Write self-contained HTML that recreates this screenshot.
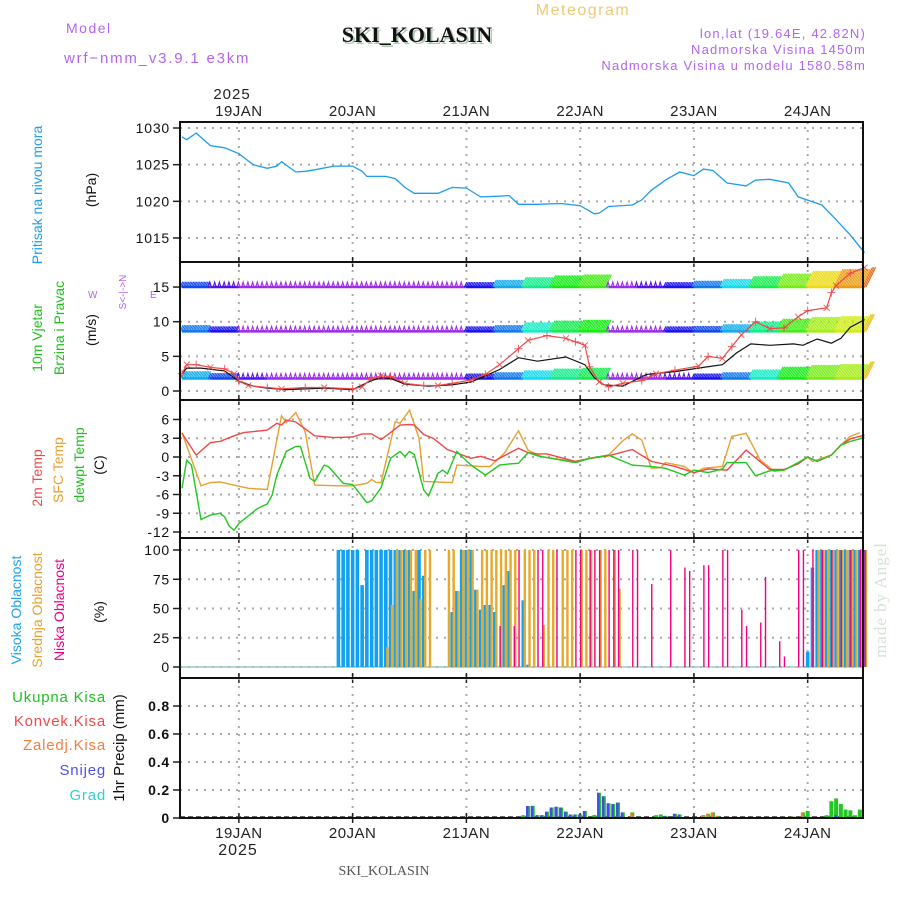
<!DOCTYPE html>
<html><head><meta charset="utf-8"><style>
html,body{margin:0;padding:0;background:#fff;}
svg{display:block;font-family:"Liberation Sans",sans-serif;}
</style></head><body>
<svg id="chart" width="900" height="900" viewBox="0 0 900 900">
<g>
<text x="66" y="33" font-size="14" fill="#b464f0" letter-spacing="1.5">Model</text>
<text x="64" y="63" font-size="15" fill="#b464f0" letter-spacing="1.8">wrf−nmm_v3.9.1 e3km</text>
<text x="419" y="44" font-size="22" font-weight="bold" font-family="Liberation Serif,serif" fill="#b0c8b0" text-anchor="middle">SKI_KOLASIN</text>
<text x="417" y="42" font-size="22" font-weight="bold" font-family="Liberation Serif,serif" fill="#111" text-anchor="middle">SKI_KOLASIN</text>
<text x="583" y="15" font-size="16" fill="#f0c878" letter-spacing="1.5" text-anchor="middle">Meteogram</text>
<text x="866" y="38" font-size="13" fill="#b464f0" letter-spacing="1.2" text-anchor="end">lon,lat (19.64E, 42.82N)</text>
<text x="866" y="54" font-size="13" fill="#b464f0" letter-spacing="1.2" text-anchor="end">Nadmorska Visina 1450m</text>
<text x="866" y="70" font-size="13" fill="#b464f0" letter-spacing="1.2" text-anchor="end">Nadmorska Visina u modelu 1580.58m</text>
<text x="232" y="99" font-size="15" fill="#222" text-anchor="middle" letter-spacing="1">2025</text>
</g>
<g font-size="14">
<text transform="translate(42,195) rotate(-90)" text-anchor="middle" fill="#1e9cf0">Pritisak na nivou mora</text>
<text transform="translate(96,190) rotate(-90)" text-anchor="middle" fill="#111">(hPa)</text>
<text transform="translate(42,338) rotate(-90)" text-anchor="middle" fill="#20c020">10m Vjetar</text>
<text transform="translate(64,328) rotate(-90)" text-anchor="middle" fill="#20c020">Brzina i Pravac</text>
<text transform="translate(96,330) rotate(-90)" text-anchor="middle" fill="#111">(m/s)</text>
<g fill="#b464f0" font-size="10">
<text x="88" y="298">W</text><text x="150" y="298">E</text>
<text transform="translate(126,292) rotate(-90)" text-anchor="middle">S&lt;-|-&gt;N</text>
</g>
<text transform="translate(42,478) rotate(-90)" text-anchor="middle" fill="#f04848">2m Temp</text>
<text transform="translate(63,470) rotate(-90)" text-anchor="middle" fill="#e8a030">SFC Temp</text>
<text transform="translate(84,465) rotate(-90)" text-anchor="middle" fill="#20c020">dewpt Temp</text>
<text transform="translate(104,465) rotate(-90)" text-anchor="middle" fill="#111">(C)</text>
<text transform="translate(21,610) rotate(-90)" text-anchor="middle" fill="#1ea0f0">Visoka Oblacnost</text>
<text transform="translate(42,610) rotate(-90)" text-anchor="middle" fill="#e8a030">Srednja Oblacnost</text>
<text transform="translate(64,610) rotate(-90)" text-anchor="middle" fill="#f00080">Niska Oblacnost</text>
<text transform="translate(104,612) rotate(-90)" text-anchor="middle" fill="#111">(%)</text>
<g font-size="15" text-anchor="end" letter-spacing="0.8">
<text x="106" y="702" fill="#20c020">Ukupna Kisa</text>
<text x="106" y="726" fill="#f04848">Konvek.Kisa</text>
<text x="106" y="750" fill="#f08040">Zaledj.Kisa</text>
<text x="106" y="775" fill="#5050f0">Snijeg</text>
<text x="106" y="800" fill="#30d0d0">Grad</text>
</g>
<text transform="translate(124,748) rotate(-90)" text-anchor="middle" fill="#111" font-size="15">1hr Precip (mm)</text>
</g>
<text transform="translate(886,600) rotate(-90)" text-anchor="middle" fill="#d4e2d4" font-size="17" font-family="Liberation Serif,serif" letter-spacing="1">made by Angel</text>
<text x="384" y="875" font-size="14" font-family="Liberation Serif,serif" fill="#555" text-anchor="middle">SKI_KOLASIN</text>
<text x="238" y="855" font-size="16" fill="#222" text-anchor="middle" letter-spacing="1">2025</text>
<g id="plots"></g>
</svg>
<script>
// ---- data ----
const dayLabels = ["19JAN","20JAN","21JAN","22JAN","23JAN","24JAN"];
const dayHours = [12,36,60,84,108,132];
const pressTicks = [1015,1020,1025,1030];
const windTicks = [0,5,10,15];
const tempTicks = [-12,-9,-6,-3,0,3,6];
const cloudTicks = [0,25,50,75,100];
const precipTicks = [0,0.2,0.4,0.6,0.8];

const pressHours = [0,1,3,6,9,12,15,18,20,21,24,26,28,32,36,38,39,43,45,47,49,54,57,60,63,67,69,71,75,80,84,87,88,90,95,97,99,102,105,108,110,112,115,119,121,124,128,130,135,138,141,144];
const pressVals = [1028.8,1028.4,1029.3,1027.6,1027.3,1026.5,1025.0,1024.5,1024.8,1025.4,1024.0,1024.1,1024.3,1024.8,1024.8,1024.1,1023.4,1023.4,1023.1,1021.9,1021.1,1021.1,1021.9,1021.8,1020.6,1020.7,1020.8,1019.6,1019.6,1019.7,1019.4,1018.3,1018.4,1019.3,1019.5,1020.2,1021.5,1022.9,1024.0,1023.5,1024.4,1024.2,1022.5,1022.1,1022.9,1023.0,1022.5,1020.6,1019.5,1017.5,1015.4,1013.0];

const spdHours = [0,1,3,6,9,11,12,14,18,21,26,30,36,38,40,42,44,47,51,54,57,61,64,67,71,73,77,81,83,85,86,88,90,93,97,100,104,109,111,114,116,118,121,124,127,130,132,136,137,138,141,144];
const spdVals = [2.5,3.8,3.8,3.4,3.2,2.5,1.4,0.8,0.5,0.3,0.5,0.5,0.3,0.6,1.8,2.2,2.1,1.1,0.8,0.8,1.1,1.6,2.4,3.8,6.1,7.3,8.0,7.6,7.1,6.6,3.5,1.3,0.6,1.1,1.5,2.5,3.0,3.6,5.0,4.7,6.4,8.1,10.0,9.0,9.1,10.7,11.6,12.0,14.2,15.2,17.0,17.8];
const gustHours = [0,1,4,9,12,15,18,22,30,36,40,42,44,47,52,57,61,64,67,71,75,81,85,87,89,93,98,104,110,114,117,120,124,129,131,134,137,139,141,144];
const gustVals = [2.5,3.3,3.3,2.9,1.4,0.7,0.4,0.2,0.4,0.2,1.5,1.9,1.8,1.0,0.7,0.9,1.3,2.2,3.1,4.8,4.3,4.9,3.8,1.9,0.9,0.7,2.4,2.8,3.4,3.8,5.5,6.8,6.6,6.8,6.6,7.5,6.9,7.6,9.2,10.3];

const barbHours = [0,6,12,18,24,30,36,42,48,54,60,66,72,78,84,90,96,102,108,114,120,126,132,138,144];
const barbUpper = [6,4,3,3,3,3,3,3,3,3,5,8,11,13,14,3,4,5,7,9,12,15,18,20,22];
const barbMid = [7,5,3,3,3,3,3,3,3,3,5,7,10,12,13,3,3,5,6,8,11,14,16,17,19];
const barbLow = [8,6,4,3,3,3,3,3,3,3,5,7,9,11,12,3,3,4,5,7,10,13,15,16,19];

const t2Hours = [0,3,6,8,11,13,18,20,21,22,24,28,32,36,38,40,42,44,46,48,49,51,53,56,61,63,66,71,73,75,77,83,86,90,95,99,104,108,111,115,119,124,127,130,132,134,137,139,141,144];
const t2Vals = [3.8,0.3,2.3,2.5,3.4,3.9,4.3,5.4,5.1,5.9,5.6,3.4,3.1,3.2,3.7,3.7,2.8,3.9,5.1,5.2,5.1,3.6,3.0,1.2,-0.2,0.1,-0.6,1.4,0.7,0.5,0.5,-0.7,-0.2,0.2,1.2,-0.7,-1.5,-2.5,-1.9,-2.1,1.1,-2.0,-2.0,-1.1,0.0,-0.7,0.3,1.9,2.9,3.5];
const sfcHours = [0,4,6,8,14,18,21,22,24,26,28,33,36,39,40,41,42,45,46,48,50,51,57,58,63,65,68,71,73,76,83,90,93,95,97,99,101,102,106,108,110,114,116,119,122,125,127,130,132,133,137,139,141,143];
const sfcVals = [3.9,-4.6,-4.1,-4.0,-5.0,-5.2,6.6,5.5,7.1,4.0,-4.5,-4.6,-4.6,-4.2,-3.6,-4.1,-4.1,5.7,5.4,7.5,3.0,-3.9,-4.1,-1.3,-1.5,-1.5,0.6,4.2,1.1,0.0,-0.7,0.3,2.6,3.7,2.7,-1.8,-1.7,-0.9,-1.5,-2.6,-1.8,-1.5,3.3,3.8,-0.5,-2.3,-2.1,-0.9,0.0,-0.7,0.3,1.9,3.3,3.9];
const dewHours = [0,1,2,4,6,8,9,10,11,12,16,18,19,20,22,24,25,27,28,30,31,34,36,39,40,42,44,46,47,48,49,51,52,54,55,56,58,59,61,64,67,69,71,73,75,83,86,90,95,99,102,106,108,111,114,115,117,119,121,124,127,130,132,134,137,139,141,144];
const dewVals = [-5.0,-0.5,-1.3,-10.0,-9.3,-9.0,-9.6,-11.1,-11.7,-10.6,-8.2,-7.5,-6.1,-2.9,0.9,1.7,1.7,-3.4,-3.9,-1.3,-1.6,-4.2,-4.4,-7.3,-7.0,-4.9,-0.2,0.9,0.1,0.9,0.4,-5.3,-6.2,-2.6,-2.1,-2.7,0.9,0.1,-1.3,-2.9,-1.3,-1.1,-1.0,0.7,0.2,-0.9,-0.2,0.3,-1.3,-1.5,-1.8,-2.9,-2.1,-2.5,-1.9,-0.9,-0.9,-0.9,-3.0,-2.2,-2.1,-0.9,0.0,-0.7,0.3,1.9,2.5,3.1];

const highHours = [33,34,35,36,37,38,39,40,41,42,43,44,45,46,47,48,49,50,51,57,58,59,60,61,62,63,64,65,66,68,69,72,73,132,133,134,135,136,137,138,139,140,141,142,143,144];
const highVals = [100,100,100,100,100,70,100,100,100,100,100,100,100,100,100,100,65,100,78,47,65,100,100,100,66,49,53,53,47,70,82,57,2,13,85,100,100,100,100,100,100,100,100,100,100,100];
const midHours = [43,44,45,46,47,48,49,50,51,52,56,57,58,59,60,61,62,63,64,65,66,67,68,69,70,72,73,74,76,77,78,80,81,82,84,85,86,88,89,91,92,134,135,136,137,138,139,140,141,142,143,144];
const midVals = [17,53,100,100,100,100,100,58,100,100,100,100,65,100,100,100,66,100,100,100,100,100,100,100,100,100,100,100,36,100,100,100,100,100,100,100,100,100,100,100,67,100,100,100,100,100,100,100,100,100,100,100];
const lowHours = [67,70,71,75,76,79,83,84,86,87,88,90,91,92,95,96,99,103,106,107,110,111,114,115,118,119,122,123,126,127,130,131,133,135,137,139,141,143,144];
const lowVals = [35,35,100,100,100,100,100,100,100,100,100,100,100,100,100,100,71,100,85,82,87,87,100,100,49,35,38,77,22,9,100,100,100,100,100,100,100,100,100];

const precipHours = [72,73,74,75,76,77,78,79,80,81,82,83,84,85,87,88,89,90,91,92,93,94,95,100,101,102,104,105,110,111,112,113,129,131,132,136,137,138,139,140,141,142,143];
const precipTotal = [0.02,0.085,0.087,0.02,0.02,0.045,0.075,0.08,0.075,0.045,0.025,0.025,0.025,0.05,0.022,0.18,0.155,0.105,0.1,0.11,0.04,0.005,0.04,0.02,0.025,0.015,0.03,0.025,0.02,0.03,0.04,0.015,0.01,0.04,0.05,0.02,0.12,0.14,0.1,0.06,0.055,0.02,0.06];
const precipSnow = [0,0.085,0.085,0.02,0.02,0.045,0.075,0.08,0.075,0.045,0.025,0.025,0.025,0.05,0,0.18,0.155,0.105,0.1,0.11,0.04,0.005,0,0,0,0.015,0.03,0.025,0,0,0,0,0,0,0,0,0,0.02,0,0,0,0,0];
const precipFrz = [0,0,0,0,0,0,0,0,0,0,0,0,0,0,0,0,0,0,0,0,0,0,0.03,0,0,0,0,0,0.02,0.03,0.04,0.015,0.01,0.04,0,0,0,0,0,0,0,0,0];

// ---- axes ----
const NS = "http://www.w3.org/2000/svg";
const X0 = 180, X1 = 863;
const xAt = t => 182 + t * 4.74;
const yPress = v => 128 + (1030 - v) * 7.333;
const yWind = v => 391 - v * 6.93;
const yTemp = v => 457 - v * 6.25;
const yCloud = v => 667 - v * 1.17;
const yPrecip = v => 818 - v * 140;
const root = document.getElementById('plots');
function mk(tag, attrs, parent) {
  const e = document.createElementNS(NS, tag);
  for (const k in attrs) e.setAttribute(k, attrs[k]);
  (parent || root).appendChild(e);
  return e;
}
function polyPath(hours, vals, yf) {
  return hours.map((h, i) => (i ? 'L' : 'M') + xAt(h).toFixed(1) + ',' + yf(vals[i]).toFixed(1)).join('');
}
const panels = [
  {name:'pressure', top:122, bot:262, ticks:pressTicks, yf:yPress, fmt:v=>v},
  {name:'wind', top:262, bot:400, ticks:windTicks, yf:yWind, fmt:v=>v},
  {name:'temp', top:400, bot:538, ticks:tempTicks, yf:yTemp, fmt:v=>v},
  {name:'cloud', top:538, bot:678, ticks:cloudTicks, yf:yCloud, fmt:v=>v},
  {name:'precip', top:678, bot:818, ticks:precipTicks, yf:yPrecip, fmt:v=>v===0?'0':v.toFixed(1)}
];
panels.forEach(p => {
  const g = mk('g', {});
  
  
  dayHours.forEach(h => {
    const l = mk('line', {x1:xAt(h), x2:xAt(h), y1:p.top, y2:p.bot, stroke:'#aaa', 'stroke-width':2, 'stroke-dasharray':'2,6'}, g);
    
    
    mk('line', {x1:xAt(h), x2:xAt(h), y1:p.bot-5, y2:p.bot+5, stroke:'#222', 'stroke-width':1.5}, g);
  });
  p.ticks.forEach(v => {
    const y = p.yf(v);
    const l = mk('line', {x1:X0, x2:X1, y1:y, y2:y, stroke:'#aaa', 'stroke-width':2, 'stroke-dasharray':'2,6'}, g);
    
    
    mk('line', {x1:X0-7, x2:X0, y1:y, y2:y, stroke:'#222', 'stroke-width':1.5}, g);
    const t = mk('text', {x:X0-10, y:y+5, 'font-size':14, 'text-anchor':'end', fill:'#111', 'letter-spacing':0.8, 'font-weight': p.name==='precip'?'bold':'normal'}, g);
    t.textContent = p.fmt(v);
    
    
  });
});
// day labels
dayHours.forEach((h, i) => {
  const a = mk('text', {x:xAt(h), y:116, 'font-size':15, 'text-anchor':'middle', fill:'#222', 'letter-spacing':0.5});
  a.textContent = dayLabels[i];
  
  
  const b = mk('text', {x:xAt(h), y:838, 'font-size':15, 'text-anchor':'middle', fill:'#222', 'letter-spacing':0.5});
  b.textContent = dayLabels[i];
  
  
});

// pressure
const pl = mk('path', {d:polyPath(pressHours, pressVals, yPress), fill:'none', stroke:'#1e9cf0', 'stroke-width':1.3});



// wind barbs
const cStops = [[3,275],[6,225],[9,185],[13,120],[16,80],[18,55],[21,30],[25,0]];
function spdColor(s) {
  if (s <= cStops[0][0]) return 'hsl(275,85%,55%)';
  for (let i = 1; i < cStops.length; i++) {
    if (s <= cStops[i][0]) {
      const a = cStops[i-1], b = cStops[i], f = (s - a[0]) / (b[0] - a[0]);
      return 'hsl(' + (a[1] + (b[1]-a[1]) * f).toFixed(0) + ',85%,50%)';
    }
  }
  return 'hsl(0,85%,50%)';
}
[[barbUpper,15],[barbMid,8.6],[barbLow,1.8]].forEach(([arr, lvl], ri) => {
  const g = mk('g', {});
  
  
  const yb = yWind(lvl);
  barbHours.forEach((h, i) => {
    const s = arr[i], col = spdColor(s);
    const len = Math.max(5, s * 0.9);
    let d = '';
    for (let k = 0; k < 6 && h + k <= 144.3; k++) {
      const x = xAt(h + k) - 2;
      if (s <= 4) {
        d += 'M' + x.toFixed(1) + ',' + yb.toFixed(1) + 'l1.5,' + (-len).toFixed(1) + 'l1.5,' + len.toFixed(1);
      } else {
        for (let q = 0; q < 3; q++) {
          const xx = x + q * 1.6;
          d += 'M' + xx.toFixed(1) + ',' + yb.toFixed(1) + 'l' + (len*0.5).toFixed(1) + ',' + (-len).toFixed(1);
        }
      }
    }
    const bp = mk('path', {d:d, stroke:col, 'stroke-width':1.1, fill:'none'}, g);
    
    
    const ln = mk('line', {x1:xAt(h), x2:Math.min(xAt(h+6), X1), y1:yb, y2:yb, stroke:col, 'stroke-width':2.5}, g);
    
    
  });
});
const gl = mk('path', {d:polyPath(gustHours, gustVals, yWind), fill:'none', stroke:'#111', 'stroke-width':1.2});


const sl = mk('path', {d:polyPath(spdHours, spdVals, yWind), fill:'none', stroke:'#f04848', 'stroke-width':1.2});


spdHours.forEach((h, i) => {
  const x = xAt(h), y = yWind(spdVals[i]);
  const d = (i % 2) ? 'M'+(x-3)+','+(y-3)+'l6,6M'+(x+3)+','+(y-3)+'l-6,6' : 'M'+(x-4)+','+y+'h8M'+x+','+(y-4)+'v8';
  const m = mk('path', {d:d, stroke:'#f04848', 'stroke-width':1, opacity:0.85});
  
  
});

// temps
[[sfcHours,sfcVals,'#e8a030','sfc-temp-line'],[t2Hours,t2Vals,'#f04848','t2m-line'],[dewHours,dewVals,'#20c820','dewpoint-line']].forEach(([hh,vv,c,n]) => {
  const l = mk('path', {d:polyPath(hh, vv, yTemp), fill:'none', stroke:c, 'stroke-width':1.4});
  
  
});

// clouds
mk('line', {x1:X0, x2:X1, y1:yCloud(0), y2:yCloud(0), stroke:'#9cc', 'stroke-width':1.5});
[[highHours,highVals,'#12a0f0',3.6,0,'high-cloud-bar'],[midHours,midVals,'#e8a828',2.4,1.5,'mid-cloud-bar'],[lowHours,lowVals,'#f00080',1.4,0.5,'low-cloud-bar']].forEach(([hh,vv,c,w,off,n]) => {
  hh.forEach((h, i) => {
    const y = yCloud(vv[i]);
    const r = mk('rect', {x:xAt(h)-w/2+off, y:y, width:w, height:yCloud(0)-y, fill:c});
    
    
  });
});

// precip
mk('line', {x1:X0, x2:X1, y1:yPrecip(0)-1, y2:yPrecip(0)-1, stroke:'#333', 'stroke-width':1.5, 'stroke-dasharray':'5,3'});
precipHours.forEach((h, i) => {
  const x = xAt(h);
  let y = yPrecip(precipTotal[i]);
  const r = mk('rect', {x:x-2, y:y, width:4, height:yPrecip(0)-y, fill:'#20c820'});
  
  
  if (precipSnow[i] > 0) {
    y = yPrecip(precipSnow[i]);
    const s = mk('rect', {x:x-2, y:y, width:2.5, height:yPrecip(0)-y, fill:'#4848f0'});
    
    
  }
  if (precipFrz[i] > 0) {
    y = yPrecip(precipFrz[i]);
    const f = mk('rect', {x:x-2, y:y, width:2.5, height:yPrecip(0)-y, fill:'#f08030'});
    
    
  }
});

// frame
const fr = mk('g', {stroke:'#111', 'stroke-width':2, fill:'none'});


mk('rect', {x:X0, y:122, width:X1-X0, height:818-122}, fr);
[262,400,538,678].forEach(y => mk('line', {x1:X0, x2:X1, y1:y, y2:y}, fr));
</script>
</body></html>
